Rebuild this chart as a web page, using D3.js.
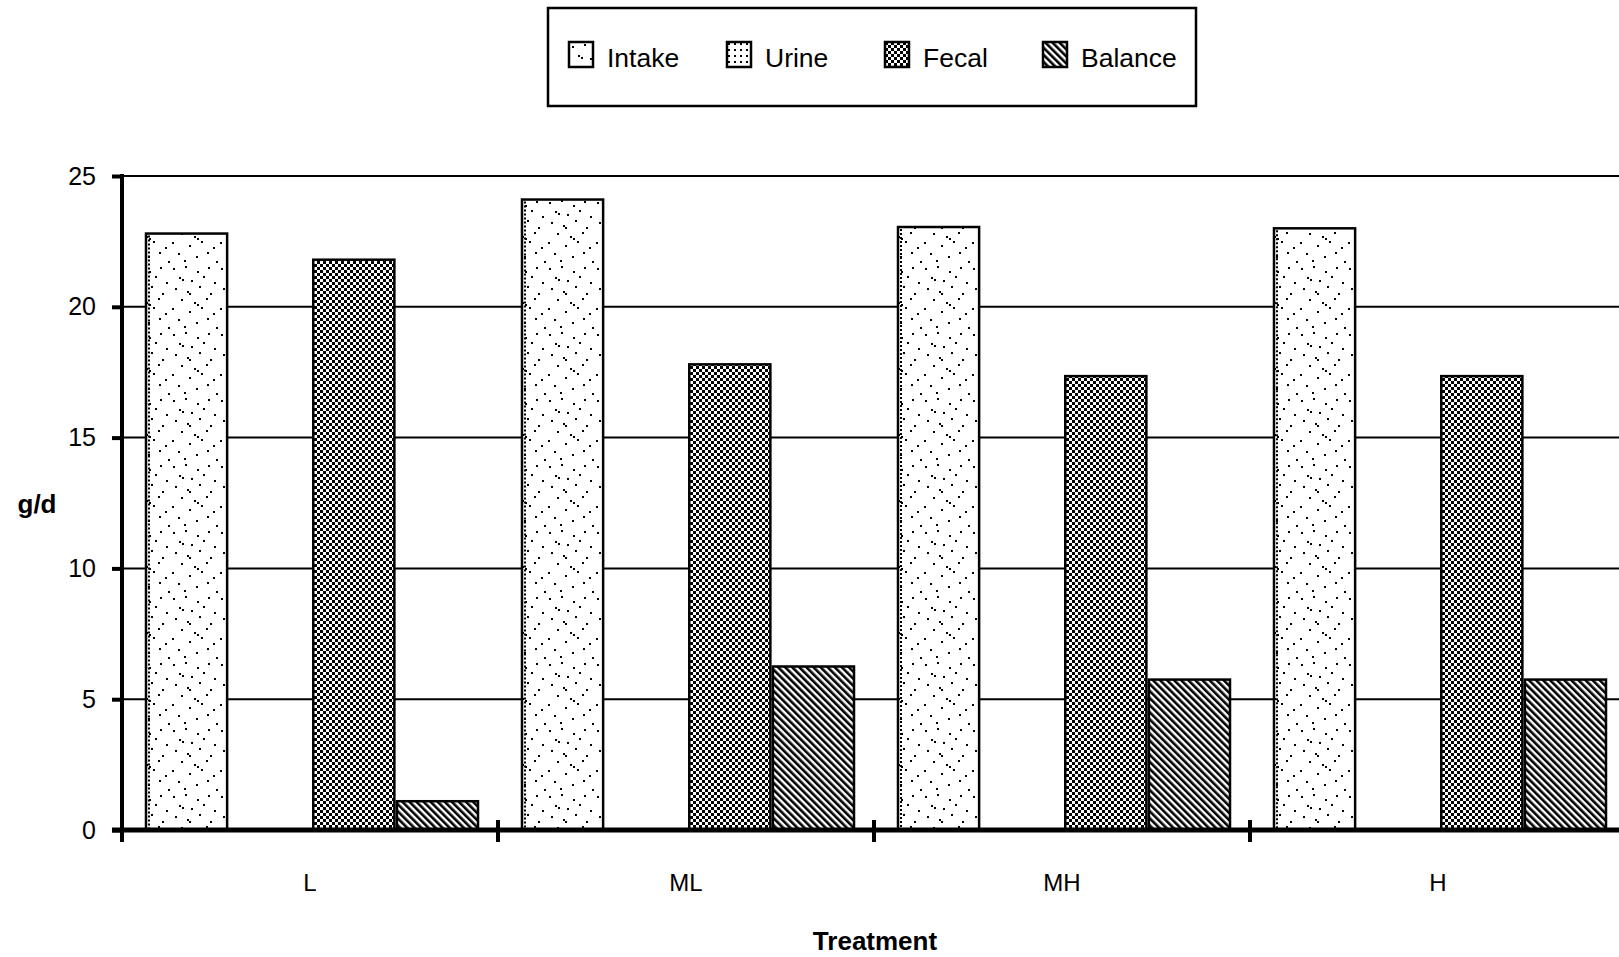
<!DOCTYPE html>
<html>
<head>
<meta charset="utf-8">
<script src="https://cdn.jsdelivr.net/npm/d3@7"></script>
<style>
  body { margin: 0; background: #fff; }
  text { font-family: "Liberation Sans", Arial, sans-serif; fill: #000; }
</style>
</head>
<body>
<div id="chart"></div>
<script>
// data
const categories = ["L", "ML", "MH", "H"];
const series = ["Intake", "Urine", "Fecal", "Balance"];
const intake = [22.8, 24.1, 23.05, 23.0];
const urine = [0, 0, 0, 0];
const fecal = [21.8, 17.8, 17.35, 17.35];
const balance = [1.1, 6.25, 5.75, 5.75];
const yTicks = [0, 5, 10, 15, 20, 25];

const values = { Intake: intake, Urine: urine, Fecal: fecal, Balance: balance };
const rows = categories.map((c, i) => ({
	cat: c,
	vals: series.map((s) => ({ key: s, value: values[s][i] })),
}));

const width = 1619, height = 957;
const svg = d3.select("#chart").append("svg")
	.attr("width", width)
	.attr("height", height);

// fill patterns
const defs = svg.append("defs");

// sparse stipple for intake
const stipple = [[3,4],[15,2],[27,7],[38,3],[9,13],[12,15],[21,16],[33,12],[44,18],[5,24],[17,27],[19,29],[29,22],
	[40,29],[11,35],[24,38],[27,40],[36,34],[2,44],[19,47],[31,43],[43,49],[8,55],[26,58],[37,54],[14,62],[46,63]];
const pInt = defs.append("pattern").attr("id", "p-intake")
	.attr("patternUnits", "userSpaceOnUse").attr("width", 48).attr("height", 66);
pInt.append("rect").attr("width", 48).attr("height", 66).attr("fill", "#fff");
pInt.selectAll("rect.d").data(stipple).enter().append("rect")
	.attr("class", "d")
	.attr("x", (d) => d[0]).attr("y", (d) => d[1])
	.attr("width", 2).attr("height", 2).attr("fill", "#000");

// denser stipple for urine
const pUr = defs.append("pattern").attr("id", "p-urine")
	.attr("patternUnits", "userSpaceOnUse").attr("width", 6).attr("height", 6);
pUr.append("rect").attr("width", 6).attr("height", 6).attr("fill", "#fff");
pUr.append("rect").attr("x", 1).attr("y", 1).attr("width", 2).attr("height", 2).attr("fill", "#000");

// checker for fecal
const pFec = defs.append("pattern").attr("id", "p-fecal")
	.attr("patternUnits", "userSpaceOnUse").attr("width", 6).attr("height", 6);
pFec.append("rect").attr("width", 6).attr("height", 6).attr("fill", "#fff");
pFec.append("rect").attr("width", 3).attr("height", 3).attr("fill", "#000");
pFec.append("rect").attr("x", 3).attr("y", 3).attr("width", 3).attr("height", 3).attr("fill", "#000");

// diagonal stripes for balance
const pBal = defs.append("pattern").attr("id", "p-balance")
	.attr("patternUnits", "userSpaceOnUse").attr("width", 5).attr("height", 5)
	.attr("patternTransform", "rotate(-45)");
pBal.append("rect").attr("width", 5).attr("height", 5).attr("fill", "#fff");
pBal.append("rect").attr("width", 2.6).attr("height", 5).attr("fill", "#000");

const fills = {
	Intake: "url(#p-intake)",
	Urine: "url(#p-urine)",
	Fecal: "url(#p-fecal)",
	Balance: "url(#p-balance)",
};

// scales
const x0 = d3.scaleBand().domain(categories).range([122, 1626]);
const x1 = d3.scaleBand().domain(series).range([24, 356]).paddingInner(0.03);
const y = d3.scaleLinear().domain([0, 25]).range([830, 176]);

// gridlines
svg.append("g").attr("class", "grid")
	.selectAll("line")
	.data(yTicks.filter((d) => d > 0))
	.enter().append("line")
	.attr("x1", 122).attr("x2", width)
	.attr("y1", (d) => y(d)).attr("y2", (d) => y(d))
	.attr("stroke", "#000").attr("stroke-width", 2);

// bars
const groups = svg.append("g").selectAll("g")
	.data(rows).enter().append("g")
	.attr("transform", (d) => `translate(${x0(d.cat)},0)`);

groups.selectAll("rect")
	.data((d) => d.vals.filter((v) => v.value > 0))
	.enter().append("rect")
	.attr("x", (d) => x1(d.key))
	.attr("y", (d) => y(d.value))
	.attr("width", x1.bandwidth())
	.attr("height", (d) => y(0) - y(d.value))
	.attr("fill", (d) => fills[d.key])
	.attr("stroke", "#000")
	.attr("stroke-width", 2.5);

// dotted inner edge on the intake bars
groups.selectAll("line.edge")
	.data((d) => d.vals.filter((v) => v.key === "Intake"))
	.enter().append("line")
	.attr("class", "edge")
	.attr("x1", (d) => x1(d.key) + 3).attr("x2", (d) => x1(d.key) + 3)
	.attr("y1", (d) => y(d.value) + 2).attr("y2", y(0))
	.attr("stroke", "#000").attr("stroke-width", 2)
	.attr("stroke-dasharray", "2,2");

// y axis
const yAxis = d3.axisLeft(y).tickValues(yTicks).tickSize(10).tickPadding(16);
const gy = svg.append("g").attr("transform", "translate(122,0)").call(yAxis);
gy.select(".domain").remove();
gy.selectAll(".tick line").attr("stroke", "#000").attr("stroke-width", 4);
gy.selectAll(".tick text")
	.attr("font-size", 25)
	.attr("font-family", "Liberation Sans, Arial, sans-serif");
svg.append("line")
	.attr("x1", 122).attr("x2", 122)
	.attr("y1", y(25) - 2).attr("y2", y(0) + 12)
	.attr("stroke", "#000").attr("stroke-width", 4);

// x axis
const xAxis = d3.axisBottom(x0).tickSize(0).tickPadding(44);
const gx = svg.append("g").attr("transform", `translate(0,${y(0)})`).call(xAxis);
gx.select(".domain").remove();
gx.selectAll(".tick text")
	.attr("font-size", 24)
	.attr("font-family", "Liberation Sans, Arial, sans-serif");
svg.append("line")
	.attr("x1", 112).attr("x2", width)
	.attr("y1", y(0)).attr("y2", y(0))
	.attr("stroke", "#000").attr("stroke-width", 5);
// category separators
svg.append("g").selectAll("line")
	.data(categories.slice(1))
	.enter().append("line")
	.attr("x1", (d) => x0(d)).attr("x2", (d) => x0(d))
	.attr("y1", y(0) - 10).attr("y2", y(0) + 12)
	.attr("stroke", "#000").attr("stroke-width", 4);

// axis titles
svg.append("text")
	.attr("x", 37).attr("y", 513)
	.attr("text-anchor", "middle")
	.attr("font-size", 26).attr("font-weight", "bold")
	.text("g/d");
svg.append("text")
	.attr("x", 875).attr("y", 950)
	.attr("text-anchor", "middle")
	.attr("font-size", 26).attr("font-weight", "bold")
	.text("Treatment");

// legend
const legend = svg.append("g");
legend.append("rect")
	.attr("x", 548).attr("y", 8)
	.attr("width", 648).attr("height", 98)
	.attr("fill", "#fff").attr("stroke", "#000").attr("stroke-width", 2.5);
const legX = [569, 727, 885, 1043];
const items = legend.selectAll("g.item")
	.data(series).enter().append("g")
	.attr("class", "item")
	.attr("transform", (d, i) => `translate(${legX[i]},42)`);
items.append("rect")
	.attr("width", 24).attr("height", 25)
	.attr("fill", (d) => fills[d])
	.attr("stroke", "#000").attr("stroke-width", 2.5);
items.append("text")
	.attr("x", 38).attr("y", 25)
	.attr("font-size", 26.5)
	.text((d) => d);
</script>
</body>
</html>
